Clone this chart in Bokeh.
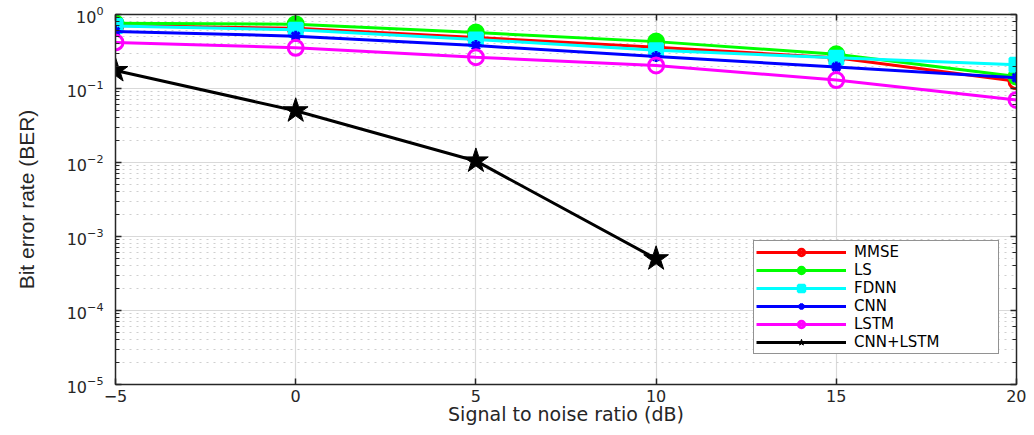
from bokeh.plotting import figure
from bokeh.models import (LogAxis, LinearAxis, Legend, LegendItem, FixedTicker,
                          Range1d, LogTicker, CustomJSTickFormatter)
from bokeh.embed import file_html
from bokeh.resources import INLINE

snr = [-5, 0, 5, 10, 15, 20]
mmse = [0.71, 0.65, 0.49, 0.36, 0.26, 0.125]
ls = [0.76, 0.74, 0.57, 0.43, 0.29, 0.145]
fdnn = [0.70, 0.62, 0.46, 0.33, 0.26, 0.21]
cnn = [0.59, 0.51, 0.38, 0.27, 0.195, 0.14]
lstm = [0.42, 0.355, 0.265, 0.205, 0.13, 0.07]
cnn_lstm_snr = [-5, 0, 5, 10]
cnn_lstm = [0.175, 0.05, 0.0105, 0.0005]

x_ticks = [-5, 0, 5, 10, 15, 20]

FONT = "DejaVu Sans"
AX = "#262626"

p = figure(width=1026, height=427, y_axis_type="log",
           x_range=Range1d(-5, 20), y_range=Range1d(1e-5, 1),
           output_backend="svg", toolbar_location=None,
           min_border_left=115, min_border_right=10,
           min_border_top=14, min_border_bottom=39)
p.outline_line_color = None

def style_axis(ax, labels=True):
    ax.axis_line_color = AX
    ax.axis_line_width = 1.5
    ax.major_tick_line_color = AX
    ax.major_tick_line_width = 1.5
    ax.minor_tick_line_color = AX
    ax.major_tick_in = 6
    ax.major_tick_out = 0
    ax.minor_tick_in = 4
    ax.minor_tick_out = 0
    ax.major_label_text_font = FONT
    ax.major_label_text_color = "#262626"
    ax.major_label_text_font_size = "16px"
    if not labels:
        ax.formatter = CustomJSTickFormatter(code="return ''")
        ax.major_label_standoff = 0

# bottom x axis
xa = p.xaxis[0]
xa.ticker = FixedTicker(ticks=x_ticks, minor_ticks=[])
style_axis(xa)
xa.major_label_standoff = 5
xa.axis_label = "Signal to noise ratio (dB)"
xa.axis_label_text_font = FONT
xa.axis_label_text_font_size = "19px"
xa.axis_label_text_font_style = "normal"
xa.axis_label_text_color = "#262626"
xa.axis_label_standoff = -2

# left y axis
ya = p.yaxis[0]
style_axis(ya)
ya.major_label_standoff = 12
ya.axis_label = "Bit error rate (BER)"
ya.axis_label_text_font = "Liberation Sans"
ya.axis_label_text_font_size = "21px"
ya.axis_label_text_font_style = "normal"
ya.axis_label_text_color = "#262626"
ya.axis_label_standoff = 26

# top and right axes (ticks only)
top = LinearAxis(ticker=FixedTicker(ticks=x_ticks, minor_ticks=[]))
style_axis(top, labels=False)
p.add_layout(top, "above")
right = LogAxis(ticker=LogTicker())
style_axis(right, labels=False)
p.add_layout(right, "right")

# grids
p.xgrid.ticker = FixedTicker(ticks=x_ticks)
p.xgrid.grid_line_color = "#d9d9d9"
p.xgrid.grid_line_width = 1.2
p.ygrid.grid_line_color = "#d9d9d9"
p.ygrid.grid_line_width = 1.2
p.ygrid.minor_grid_line_color = "#cfcfcf"
p.ygrid.minor_grid_line_dash = "2 5"
p.ygrid.minor_grid_line_width = 1

LW = 3
items = []

l = p.line(snr, mmse, line_color="#ff0000", line_width=LW)
s = p.scatter(snr, mmse, marker="circle", size=15, line_color="#ff0000",
              fill_alpha=0, line_width=LW)
items.append(LegendItem(label="MMSE", renderers=[l, s]))

l = p.line(snr, ls, line_color="#00ff00", line_width=LW)
s = p.scatter(snr, ls, marker="circle", size=15, line_color="#00ff00",
              fill_color="#00ff00", line_width=LW)
items.append(LegendItem(label="LS", renderers=[l, s]))

l = p.line(snr, fdnn, line_color="#00ffff", line_width=LW)
s = p.scatter(snr, fdnn, marker="square", size=13, line_color="#00ffff",
              fill_color="#00ffff", line_width=LW)
items.append(LegendItem(label="FDNN", renderers=[l, s]))

l = p.line(snr, cnn, line_color="#0000ff", line_width=LW)
s = p.scatter(snr, cnn, marker="asterisk", size=11, line_color="#0000ff",
              line_width=LW)
items.append(LegendItem(label="CNN", renderers=[l, s]))

l = p.line(snr, lstm, line_color="#ff00ff", line_width=LW)
s = p.scatter(snr, lstm, marker="circle", size=15, line_color="#ff00ff",
              fill_alpha=0, line_width=LW)
items.append(LegendItem(label="LSTM", renderers=[l, s]))

l = p.line(cnn_lstm_snr, cnn_lstm, line_color="#000000", line_width=LW)
s = p.scatter(cnn_lstm_snr, cnn_lstm, marker="star", size=26,
              line_color="#000000", fill_color="#000000", line_width=1)
items.append(LegendItem(label="CNN+LSTM", renderers=[l, s]))

legend = Legend(items=items, location=(638, 30), margin=0)
legend.border_line_color = "#262626"
legend.border_line_width = 1
legend.background_fill_color = "white"
legend.background_fill_alpha = 1
legend.label_text_font = FONT
legend.label_text_font_size = "15px"
legend.label_text_color = "#000000"
legend.glyph_width = 90
legend.glyph_height = 16
legend.label_height = 16
legend.label_width = 142
legend.label_standoff = 8
legend.spacing = 0
legend.padding = 2
p.add_layout(legend)

open("out.html", "w").write(file_html(p, INLINE))
